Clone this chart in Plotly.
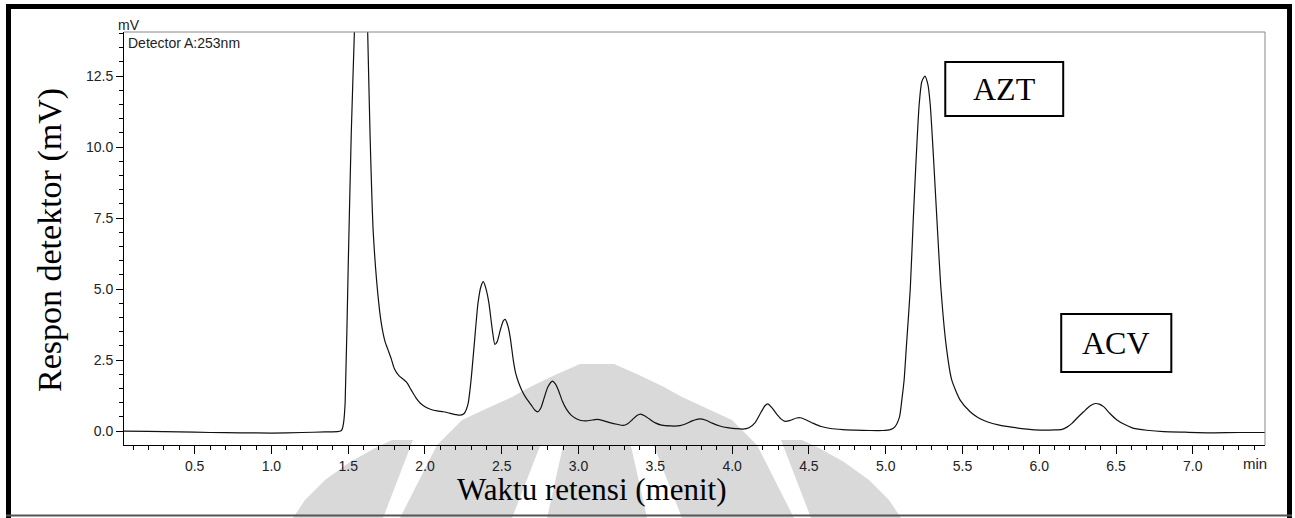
import plotly.graph_objects as go

# Chromatogram trace: retention time (min) and detector response (mV)
retention_time = [
    0.04, 0.2, 0.4, 0.6, 0.8, 1.0, 1.2, 1.35, 1.43, 1.45, 1.46, 1.47, 1.48, 1.50, 1.52, 1.54,
    1.56, 1.585, 1.61, 1.627, 1.642, 1.663, 1.70, 1.72, 1.74, 1.76, 1.78, 1.80, 1.83, 1.86,
    1.88, 1.91, 1.94, 1.97, 2.00, 2.04, 2.08, 2.12, 2.16, 2.20, 2.23, 2.255, 2.28, 2.30, 2.32,
    2.345, 2.365, 2.38, 2.395, 2.415, 2.44, 2.455, 2.47, 2.49, 2.51, 2.522, 2.54, 2.555, 2.575,
    2.59, 2.61, 2.63, 2.66, 2.69, 2.715, 2.735, 2.755, 2.775, 2.80, 2.83, 2.85, 2.87, 2.895,
    2.92, 2.95, 2.98, 3.01, 3.05, 3.09, 3.12, 3.16, 3.21, 3.25, 3.29, 3.32, 3.35, 3.38, 3.405,
    3.43, 3.46, 3.50, 3.54, 3.60, 3.66, 3.70, 3.74, 3.79, 3.83, 3.87, 3.92, 3.97, 4.02, 4.07,
    4.11, 4.15, 4.19, 4.215, 4.232, 4.26, 4.29, 4.32, 4.345, 4.38, 4.42, 4.445, 4.48, 4.53,
    4.58, 4.64, 4.72, 4.80, 4.90, 4.98, 5.03, 5.06, 5.09, 5.105, 5.12, 5.135, 5.16, 5.18,
    5.199, 5.218, 5.235, 5.255, 5.275, 5.29, 5.311, 5.335, 5.36, 5.394, 5.43, 5.485, 5.55,
    5.60, 5.66, 5.74, 5.83, 5.92, 6.007, 6.10, 6.148, 6.18, 6.213, 6.25, 6.289, 6.33, 6.365,
    6.39, 6.419, 6.46, 6.506, 6.56, 6.615, 6.70, 6.81, 6.95, 7.135, 7.30, 7.47,
]
signal_mv = [
    0.00, -0.01, -0.03, -0.05, -0.06, -0.07, -0.05, -0.03, -0.02, 0.0, 0.06, 0.3, 1.0, 5.8, 10.5, 14.0,
    17.5, 19.0, 17.5, 14.0, 10.5, 7.0, 4.45, 3.65, 3.15, 2.85, 2.55, 2.2, 1.95, 1.82,
    1.72, 1.45, 1.18, 0.98, 0.86, 0.76, 0.71, 0.68, 0.63, 0.58, 0.56, 0.62, 0.95, 1.8, 3.0,
    4.5, 5.1, 5.26, 5.05, 4.55, 3.5, 3.05, 3.15, 3.55, 3.88, 3.93, 3.7, 3.3, 2.5,
    2.05, 1.7, 1.44, 1.15, 0.93, 0.74, 0.68, 0.82, 1.15, 1.55, 1.76, 1.65, 1.42, 1.05,
    0.78, 0.57, 0.45, 0.38, 0.36, 0.39, 0.41, 0.37, 0.29, 0.24, 0.20, 0.26, 0.40, 0.55, 0.60,
    0.54, 0.43, 0.29, 0.21, 0.18, 0.19, 0.26, 0.36, 0.43, 0.38, 0.28, 0.18, 0.12, 0.09, 0.07,
    0.12, 0.30, 0.68, 0.90, 0.96, 0.82, 0.60, 0.42, 0.34, 0.38, 0.46, 0.47, 0.40, 0.27,
    0.16, 0.09, 0.05, 0.035, 0.02, 0.02, 0.05, 0.15, 0.5, 1.09, 1.8, 3.0, 5.0, 7.5,
    9.66, 11.5, 12.3, 12.5, 12.2, 11.5, 9.66, 7.3, 5.0, 3.0, 1.8, 1.09, 0.68,
    0.48, 0.33, 0.21, 0.13, 0.07, 0.035, 0.04, 0.06, 0.14, 0.27, 0.48, 0.68, 0.88, 0.97,
    0.95, 0.86, 0.62, 0.39, 0.22, 0.095, 0.03, -0.02, -0.04, -0.06, -0.05, -0.05,
]

# Peak labels: name, box corners (min, mV)
peak_names = ["AZT", "ACV"]
box_t0 = [5.388, 6.143]
box_t1 = [6.156, 6.860]
box_v0 = [11.09, 2.08]
box_v1 = [12.99, 4.12]

x_range = [0.04, 7.47]
y_range = [-0.49, 14.05]

W, H = 1295, 518
L, R, T, B = 124, 1265, 32, 445   # plot area edges in page pixels

fig = go.Figure()
grey = "#d9d9d9"


def blob(points, color=grey):
    pts = points + [points[0]]
    fig.add_trace(go.Scatter(x=[a for a, _ in pts], y=[b for _, b in pts], mode="lines",
                             fill="toself", fillcolor=color, line=dict(width=0, color=color),
                             hoverinfo="skip", showlegend=False, xaxis="x", yaxis="y"))


# light-grey emblem behind the chart (page pixel canvas)
body = [(400, 518), (437, 445), (450, 432), (462, 420), (490, 407), (512, 397),
        (530, 387), (555, 375), (580, 364), (614, 364), (639, 375), (664, 387),
        (682, 397), (704, 407), (732, 420), (744, 432), (757, 445), (794, 518)]
blob(body)
blob([(540, 446), (563, 446), (547, 518), (512, 518)], "white")
blob([(631, 446), (654, 446), (682, 518), (647, 518)], "white")
left_leg = [(293, 518), (305, 500), (325, 480), (350, 462), (375, 448), (392, 440),
            (413, 440), (383, 518)]
blob(left_leg)
blob([(1194 - a, b) for a, b in left_leg])

# chromatogram
fig.add_trace(go.Scatter(
    x=retention_time, y=signal_mv, mode="lines", xaxis="x2", yaxis="y2",
    line=dict(color="#111111", width=1.2, shape="spline", smoothing=0.6),
    hoverinfo="skip", showlegend=False,
))

shapes = []
# thin grey top / right plot border
shapes.append(dict(type="line", xref="x", yref="y", x0=L, x1=R, y0=T, y1=T,
                   line=dict(color="#888888", width=1)))
shapes.append(dict(type="line", xref="x", yref="y", x0=R, x1=R, y0=T, y1=B,
                   line=dict(color="#888888", width=1)))
# outer frame
for x0, y0, x1, y1 in [(6, 4, 1292, 9), (6, 4, 11, 518), (1287, 4, 1292, 518)]:
    shapes.append(dict(type="rect", xref="x", yref="y", x0=x0, x1=x1, y0=y0, y1=y1,
                       fillcolor="black", line=dict(width=0)))
shapes.append(dict(type="line", xref="x", yref="y", x0=6, x1=1292, y0=515.5, y1=515.5,
                   line=dict(color="#555555", width=2)))
# peak name boxes
for t0, t1, v0, v1 in zip(box_t0, box_t1, box_v0, box_v1):
    shapes.append(dict(type="rect", xref="x2", yref="y2", x0=t0, x1=t1, y0=v0, y1=v1,
                       line=dict(color="black", width=2), fillcolor="white"))

annotations = []
for name, t0, t1, v0, v1 in zip(peak_names, box_t0, box_t1, box_v0, box_v1):
    annotations.append(dict(x=(t0 + t1) / 2, y=(v0 + v1) / 2, xref="x2", yref="y2",
                            xanchor="center", yanchor="middle", text=name, showarrow=False,
                            font=dict(family="Liberation Serif", size=32, color="black")))

sans = "Liberation Sans, Arial, sans-serif"
serif = "Liberation Serif, Times New Roman, serif"
annotations += [
    dict(x=126, y=33, xref="x", yref="y", xanchor="left", yanchor="top",
         text="Detector A:253nm", showarrow=False, font=dict(family=sans, size=14, color="#222")),
    dict(x=129, y=25, xref="x", yref="y", xanchor="center", yanchor="middle",
         text="mV", showarrow=False, font=dict(family=sans, size=14, color="#222")),
    dict(x=1255, y=463, xref="x", yref="y", xanchor="center", yanchor="middle",
         text="min", showarrow=False, font=dict(family=sans, size=15, color="#222")),
    dict(x=592, y=489, xref="x", yref="y", xanchor="center", yanchor="middle",
         text="Waktu retensi (menit)", showarrow=False,
         font=dict(family=serif, size=31, color="black")),
    dict(x=50, y=240, xref="x", yref="y", xanchor="center", yanchor="middle",
         text="Respon detektor (mV)", textangle=-90, showarrow=False,
         font=dict(family=serif, size=34, color="black")),
]

tickfont = dict(family=sans, size=14, color="#222")
fig.update_layout(
    width=W, height=H,
    margin=dict(l=0, r=0, t=0, b=0),
    paper_bgcolor="white", plot_bgcolor="rgba(0,0,0,0)",
    shapes=shapes, annotations=annotations, showlegend=False,
    xaxis=dict(domain=[0, 1], range=[0, W], visible=False, fixedrange=True),
    yaxis=dict(domain=[0, 1], range=[H, 0], visible=False, fixedrange=True),
    xaxis2=dict(domain=[L / W, R / W], anchor="y2", range=x_range, tick0=0, dtick=0.5,
                tickformat=".1f", ticks="outside", ticklen=8, tickwidth=1, tickcolor="black",
                showline=True, linecolor="black", linewidth=1, showgrid=False,
                zeroline=False, tickfont=tickfont,
                minor=dict(dtick=0.1, tick0=0, ticks="outside", ticklen=4,
                           tickcolor="black", showgrid=False)),
    yaxis2=dict(domain=[(H - B) / H, (H - T) / H], anchor="x2", range=y_range, tick0=0,
                dtick=2.5, tickformat=".1f", ticks="outside", ticklen=7, tickwidth=1,
                tickcolor="black", showline=True, linecolor="black", linewidth=1,
                showgrid=False, zeroline=False, tickfont=tickfont,
                minor=dict(dtick=0.5, tick0=0, ticks="outside", ticklen=4,
                           tickcolor="black", showgrid=False)),
)

fig.write_html("out.html")
